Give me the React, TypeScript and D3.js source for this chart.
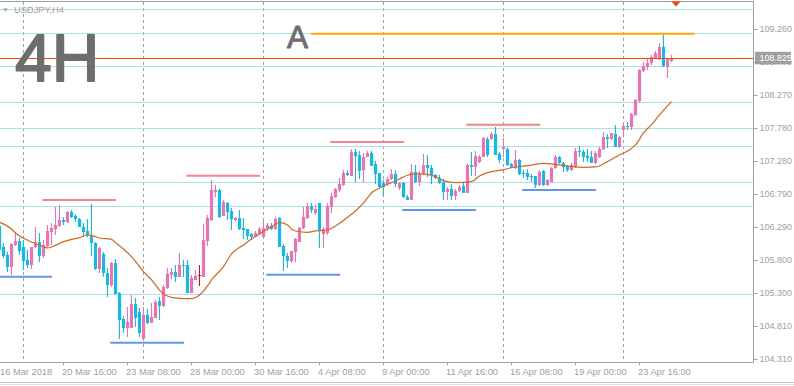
import React from 'react';
import * as d3 from 'd3';

// ---- Candle data (USDJPY H4, bar 0 = 16 Mar 2018 00:00) ----
const openP = [
  106.31, 106.0, 105.875, 105.7, 106.025, 106.09, 106.0, 105.8, 105.725, 105.99,
  106.075, 105.865, 106.015, 106.225, 106.26, 106.315, 106.4, 106.375, 106.515, 106.46,
  106.41, 106.29, 106.24, 106.175, 106.06, 105.665, 105.89, 105.61, 105.425, 105.75,
  105.31, 104.91, 104.785, 104.785, 105.14, 105.015, 104.615, 104.975, 104.86, 104.935,
  105.185, 105.11, 105.375, 105.575, 105.625, 105.55, 105.725, 105.725, 105.31, 105.5,
  105.56, 105.55, 106.09, 106.4, 106.825, 106.85, 106.465, 106.66, 106.54, 106.4,
  106.435, 106.285, 106.265, 106.185, 106.15, 106.19, 106.15, 106.26, 106.315, 106.26,
  106.425, 106.01, 105.86, 105.79, 105.925, 106.075, 106.275, 106.425, 106.61, 106.51,
  106.66, 106.185, 106.2, 106.6, 106.75, 106.85, 106.925, 107.11, 107.065, 107.425,
  107.375, 107.15, 107.34, 107.41, 107.235, 107.11, 106.95, 106.94, 107.01, 107.09,
  106.875, 106.95, 106.75, 106.7, 107.115, 106.965, 107.085, 107.225, 107.175, 107.075,
  107.025, 106.965, 106.825, 106.865, 106.765, 106.84, 106.91, 106.81, 107.225, 107.2,
  107.275, 107.35, 107.615, 107.61, 107.69, 107.39, 107.46, 107.46, 107.24, 107.175,
  107.3, 107.1, 107.1, 107.06, 107.06, 106.925, 107.135, 106.925, 106.975, 107.175,
  107.35, 107.26, 107.21, 107.15, 107.2, 107.435, 107.415, 107.36, 107.34, 107.26,
  107.34, 107.46, 107.65, 107.61, 107.69, 107.5, 107.75, 107.81, 107.8, 107.975,
  108.19, 108.64, 108.69, 108.75, 108.825, 108.81, 109.0, 108.7, 108.785,
];
const highP = [
  106.37, 106.055, 105.92, 106.05, 106.225, 106.125, 106.1, 105.95, 106.0, 106.3,
  106.2, 106.1, 106.325, 106.35, 106.6, 106.625, 106.45, 106.54, 106.55, 106.49,
  106.425, 106.35, 106.41, 106.64, 106.075, 106.0, 105.925, 105.675, 105.775, 105.815,
  105.325, 104.96, 105.1, 105.275, 105.225, 105.075, 105.1, 105.065, 105.15, 105.2,
  105.24, 105.425, 105.675, 105.675, 105.725, 105.9, 105.8, 105.8, 105.575, 105.65,
  105.725, 106.335, 106.475, 107.0, 106.925, 106.865, 106.7, 106.675, 106.575, 106.44,
  106.55, 106.425, 106.265, 106.2, 106.235, 106.3, 106.4, 106.35, 106.36, 106.44,
  106.45, 106.035, 105.9, 105.94, 106.125, 106.3, 106.6, 106.66, 106.66, 106.625,
  106.66, 106.3, 106.65, 106.8, 106.875, 107.025, 107.15, 107.15, 107.46, 107.46,
  107.44, 107.4, 107.44, 107.44, 107.29, 107.11, 107.0, 107.05, 107.16, 107.15,
  106.975, 106.975, 106.775, 107.24, 107.225, 107.14, 107.385, 107.375, 107.225, 107.09,
  107.075, 107.01, 106.9, 106.94, 106.86, 106.925, 106.975, 107.24, 107.425, 107.44,
  107.375, 107.64, 107.65, 107.725, 107.79, 107.425, 107.625, 107.475, 107.25, 107.45,
  107.31, 107.15, 107.16, 107.09, 107.06, 107.15, 107.15, 107.01, 107.2, 107.375,
  107.36, 107.275, 107.225, 107.26, 107.475, 107.51, 107.45, 107.46, 107.44, 107.44,
  107.49, 107.725, 107.69, 107.71, 107.825, 107.66, 107.86, 107.875, 108.0, 108.21,
  108.66, 108.775, 108.81, 108.875, 108.94, 109.06, 109.175, 108.825, 108.875,
];
const lowP = [
  105.905, 105.83, 105.625, 105.575, 106.01, 105.875, 105.65, 105.675, 105.665, 105.975,
  105.775, 105.825, 105.995, 106.025, 106.175, 106.3, 106.325, 106.36, 106.435, 106.375,
  106.29, 106.15, 106.15, 105.865, 105.65, 105.6, 105.55, 105.24, 105.39, 105.29,
  104.615, 104.7, 104.65, 104.775, 104.79, 104.64, 104.6, 104.84, 104.85, 104.925,
  104.9, 105.1, 105.365, 105.51, 105.475, 105.54, 105.55, 105.31, 105.3, 105.5,
  105.415, 105.55, 106.01, 106.39, 106.75, 106.425, 106.46, 106.4, 106.25, 106.39,
  106.25, 106.11, 106.1, 106.1, 106.15, 106.175, 106.14, 106.24, 106.25, 106.25,
  105.99, 105.64, 105.675, 105.75, 105.765, 106.065, 106.265, 106.41, 106.51, 106.475,
  105.975, 105.975, 106.175, 106.51, 106.735, 106.825, 106.91, 107.065, 107.06, 106.975,
  107.01, 106.975, 107.34, 107.21, 106.94, 106.885, 106.765, 106.91, 107.0, 106.9,
  106.85, 106.725, 106.7, 106.7, 106.95, 106.915, 107.075, 107.05, 106.94, 107.01,
  106.94, 106.7, 106.7, 106.7, 106.7, 106.825, 106.8, 106.8, 107.06, 107.06,
  107.25, 107.34, 107.35, 107.6, 107.375, 107.26, 107.35, 107.215, 107.175, 107.165,
  107.075, 107.025, 107.0, 106.975, 106.875, 106.915, 106.915, 106.915, 106.965, 107.165,
  107.24, 107.125, 107.125, 107.14, 107.175, 107.34, 107.275, 107.275, 107.25, 107.24,
  107.33, 107.45, 107.475, 107.6, 107.49, 107.48, 107.64, 107.75, 107.75, 107.965,
  108.16, 108.625, 108.65, 108.725, 108.81, 108.8, 108.7, 108.535, 108.775,
];
const closeP = [
  105.95, 105.865, 105.7, 106.04, 106.09, 105.94, 105.79, 105.725, 105.99, 106.075,
  105.865, 106.025, 106.24, 106.285, 106.325, 106.4, 106.375, 106.525, 106.45, 106.41,
  106.29, 106.225, 106.175, 106.05, 105.665, 105.975, 105.61, 105.425, 105.75, 105.29,
  104.9, 104.785, 104.865, 105.14, 104.925, 104.71, 104.975, 104.85, 104.94, 105.175,
  105.11, 105.4, 105.59, 105.625, 105.55, 105.725, 105.71, 105.31, 105.525, 105.565,
  105.56, 106.1, 106.435, 106.85, 106.85, 106.44, 106.665, 106.525, 106.415, 106.425,
  106.265, 106.25, 106.16, 106.15, 106.21, 106.26, 106.275, 106.325, 106.265, 106.415,
  106.0, 105.86, 105.79, 105.94, 106.11, 106.285, 106.44, 106.61, 106.55, 106.56,
  106.25, 106.26, 106.61, 106.76, 106.86, 106.935, 107.11, 107.075, 107.425, 107.36,
  107.14, 107.34, 107.41, 107.21, 107.09, 106.89, 106.89, 107.01, 107.09, 106.94,
  106.95, 106.75, 106.7, 107.115, 106.965, 107.085, 107.225, 107.175, 107.075, 107.025,
  106.95, 106.825, 106.865, 106.765, 106.84, 106.9, 106.81, 107.225, 107.2, 107.36,
  107.35, 107.625, 107.375, 107.69, 107.375, 107.3, 107.49, 107.225, 107.175, 107.3,
  107.09, 107.09, 107.05, 107.05, 106.925, 107.125, 106.925, 107.0, 107.185, 107.35,
  107.25, 107.2, 107.15, 107.225, 107.435, 107.415, 107.34, 107.335, 107.26, 107.4,
  107.465, 107.65, 107.61, 107.7, 107.5, 107.65, 107.81, 107.8, 107.99, 108.2,
  108.65, 108.71, 108.76, 108.84, 108.9, 109.0, 108.715, 108.825, 108.825,
];

// ---- Moving average readings (bar index, price) ----
const maBars = [0, 3, 4, 6, 8, 11, 12, 13, 16, 18, 20, 22, 23, 25, 28, 29, 31, 33, 34, 36, 38, 39, 41, 43, 45, 48, 50, 52, 53, 56, 58, 61, 63, 66, 68, 70, 72, 73, 74, 77, 79, 82, 84, 87, 89, 91, 92, 93, 95, 96, 98, 100, 102, 104, 106, 109, 111, 114, 118, 120, 122, 126, 129, 132, 136, 139, 143, 146, 149, 152, 155, 157, 159, 161, 163, 165, 167, 168];
const maVals = [106.365, 106.265, 106.205, 106.125, 106.07, 106.0, 105.98, 105.995, 106.075, 106.11, 106.135, 106.175, 106.17, 106.13, 106.11, 106.06, 105.965, 105.85, 105.78, 105.625, 105.5, 105.425, 105.29, 105.24, 105.225, 105.22, 105.275, 105.41, 105.5, 105.7, 105.89, 106.025, 106.115, 106.225, 106.3, 106.36, 106.325, 106.265, 106.235, 106.215, 106.235, 106.25, 106.31, 106.44, 106.535, 106.655, 106.73, 106.805, 106.88, 106.91, 106.96, 107.015, 107.07, 107.09, 107.09, 107.05, 106.99, 106.96, 106.975, 107.06, 107.11, 107.155, 107.195, 107.215, 107.25, 107.235, 107.2, 107.19, 107.195, 107.275, 107.375, 107.435, 107.525, 107.705, 107.83, 107.975, 108.11, 108.175];

// ---- Horizontal levels ----
const cyanLevels = [109.56, 109.2, 108.71, 108.165, 107.775, 107.51, 106.965, 106.605, 105.29];
const resStart = [10.7, 46.7, 82.7, 116.7];
const resEnd = [29.1, 65.1, 101.1, 135.2];
const resPrice = [106.7, 107.065, 107.57, 107.83];
const supStart = [-1, 27.7, 66.7, 100.7, 130.7];
const supEnd = [13.1, 46.1, 85.2, 119.1, 149.1];
const supPrice = [105.55, 104.56, 105.58, 106.55, 106.85];
const targetStart = 77.9;
const targetEnd = 173.8;
const targetPrice = 109.195;
const bidPrice = 108.825;

// ---- Axis ticks ----
const priceTicks = [109.26, 108.77, 108.27, 107.78, 107.28, 106.79, 106.29, 105.8, 105.3, 104.81, 104.31];
const timeTickBars = [0, 16, 32, 48, 64, 80, 96, 112, 128, 144, 160];
const timeTickLabels = ['16 Mar 2018', '20 Mar 16:00', '23 Mar 08:00', '28 Mar 00:00', '30 Mar 16:00', '4 Apr 08:00', '9 Apr 00:00', '11 Apr 16:00', '16 Apr 08:00', '19 Apr 00:00', '23 Apr 16:00'];
const weekGridBars = [6, 36, 66, 96, 126, 156];

const BULL = '#FF69B4';
const BEAR = '#00BFFF';
const AXIS = '#A0A0A0';
const FONT = '"Liberation Sans", Arial, sans-serif';

export default function App() {
  const W = 794, H = 386;
  const plotRight = 753.5;
  const axisY = 362.5;
  const x = d3.scaleLinear().domain([0, 168]).range([-0.5, 671.5]);
  const y = d3.scaleLinear().domain([104.31, 109.26]).range([359.3, 29.3]);
  const py = (p: number) => Math.round(y(p)) + 0.5;

  const maLine = d3
    .line<number>()
    .x((_, i) => x(maBars[i]))
    .y((d) => y(d))
    .curve(d3.curveMonotoneX);

  return (
    <svg width={W} height={H} style={{ position: 'absolute', left: 0, top: 0, background: '#fff' }} fontFamily={FONT}>
      <rect x={0} y={0} width={W} height={H} fill="#fff" />
      {/* frame */}
      <line x1={0} x2={plotRight} y1={1.5} y2={1.5} stroke={AXIS} />
      <line x1={plotRight} x2={plotRight} y1={1} y2={axisY} stroke={AXIS} />
      <line x1={0} x2={plotRight} y1={axisY} y2={axisY} stroke={AXIS} />
      <line x1={0} x2={W} y1={382.5} y2={382.5} stroke="#C8C8C8" />
      <line x1={0} x2={W} y1={384.5} y2={384.5} stroke="#DCDCDC" />

      {/* weekly dashed grid */}
      {weekGridBars.map((b) => (
        <line key={'g' + b} x1={x(b)} x2={x(b)} y1={2} y2={axisY} stroke={AXIS} strokeDasharray="3,3" />
      ))}

      {/* cyan horizontal lines */}
      {cyanLevels.map((p, i) => (
        <line key={'c' + i} x1={0} x2={plotRight} y1={py(p)} y2={py(p)} stroke="#A8E0E3" />
      ))}

      {/* candles */}
      <g shapeRendering="crispEdges">
        {openP.map((o, i) => {
          const c = closeP[i];
          const doji = Math.abs(o - c) < 1e-9;
          const col = doji ? '#FF0000' : c > o ? BULL : BEAR;
          const cx = x(i);
          const top = y(Math.max(o, c));
          const bot = y(Math.min(o, c));
          return (
            <g key={'k' + i}>
              <line x1={cx} x2={cx} y1={y(highP[i])} y2={y(lowP[i])} stroke={col} />
              {doji ? (
                <line x1={cx - 1.5} x2={cx + 1.5} y1={top} y2={top} stroke={col} />
              ) : (
                <rect x={cx - 1.5} y={top} width={3} height={Math.max(1, bot - top)} fill={col} />
              )}
            </g>
          );
        })}
      </g>

      {/* moving average */}
      <path d={maLine(maVals) || ''} fill="none" stroke="#D2691E" strokeWidth={1.2} />

      {/* resistance / support segments */}
      {resPrice.map((p, i) => (
        <line key={'r' + i} x1={x(resStart[i])} x2={x(resEnd[i])} y1={y(p)} y2={y(p)} stroke="#F4858E" strokeWidth={2} />
      ))}
      {supPrice.map((p, i) => (
        <line key={'s' + i} x1={x(supStart[i])} x2={x(supEnd[i])} y1={y(p)} y2={y(p)} stroke="#6495ED" strokeWidth={2} />
      ))}
      <line x1={x(targetStart)} x2={x(targetEnd)} y1={y(targetPrice)} y2={y(targetPrice)} stroke="#FFA500" strokeWidth={2} />

      {/* bid line */}
      <line x1={0} x2={plotRight} y1={py(bidPrice)} y2={py(bidPrice)} stroke="#FF4500" />

      {/* big labels */}
      <text x={15} y={80.8} fontSize={66} fill="#6E6E6E" stroke="#6E6E6E" strokeWidth={1.8} strokeLinejoin="round">4H</text>
      <text x={287} y={47.8} fontSize={31.5} fill="#6E6E6E" stroke="#6E6E6E" strokeWidth={0.9} strokeLinejoin="round">A</text>

      {/* title */}
      <path d="M3,8.5 L8,8.5 L5.5,11.5 Z" fill={AXIS} />
      <text x={14} y={12.7} fontSize={9.3} fill={AXIS}>USDJPY,H4</text>

      {/* shift marker */}
      <path d="M671.5,1.5 L680.5,1.5 L676,6.5 Z" fill="#FF4500" />

      {/* price axis */}
      {priceTicks.map((p) => (
        <g key={'p' + p}>
          <line x1={plotRight} x2={plotRight + 4} y1={py(p)} y2={py(p)} stroke={AXIS} />
          <text x={759.5} y={y(p)} dy="0.35em" fontSize={9} fill={AXIS}>{p.toFixed(3)}</text>
        </g>
      ))}
      <rect x={755} y={y(bidPrice) - 6.5} width={36} height={12.5} fill="#A0A0A0" />
      <text x={759.5} y={y(bidPrice)} dy="0.35em" fontSize={9} fill="#FFFFFF">{bidPrice.toFixed(3)}</text>

      {/* time axis */}
      {timeTickBars.map((b, i) => (
        <g key={'t' + b}>
          <line x1={x(b)} x2={x(b)} y1={axisY} y2={axisY + 3} stroke={AXIS} />
          <text x={Math.max(x(b) - 1.5, 0)} y={375} fontSize={9.3} fill={AXIS}>{timeTickLabels[i]}</text>
        </g>
      ))}
    </svg>
  );
}
